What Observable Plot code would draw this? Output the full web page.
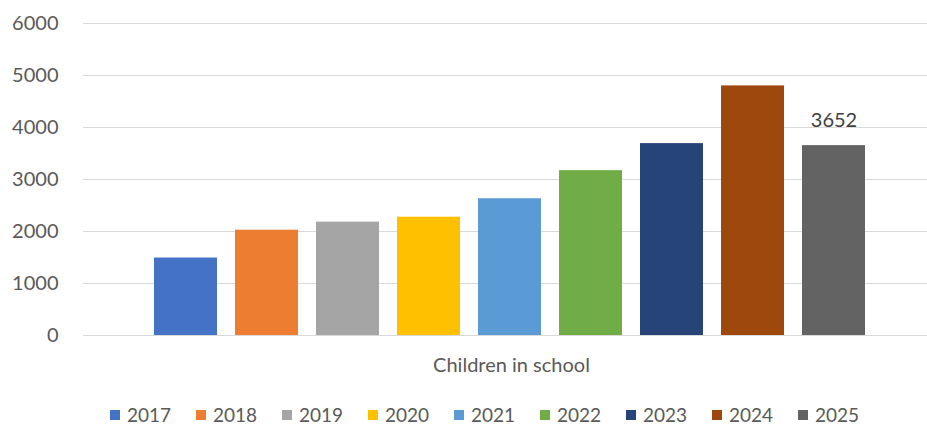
<!DOCTYPE html>
<html>
<head>
<meta charset="utf-8">
<script src="https://cdn.jsdelivr.net/npm/d3@7"></script>
<script src="https://cdn.jsdelivr.net/npm/@observablehq/plot@0.6"></script>
<style>
  html, body { margin: 0; padding: 0; background: #ffffff; }
  #chart { width: 927px; font-family: Lato, "Open Sans", sans-serif; }
  #legend { display: flex; padding-left: 110px; margin-top: 16px; height: 18px; line-height: 18px; font-size: 19px; color: #595959; }
  #legend .item { width: 86px; display: flex; align-items: center; }
  #legend .sw { width: 10px; height: 10px; margin-right: 7px; flex: none; }
</style>
</head>
<body>
<div id="chart"></div>
<script>
const years = ["2017", "2018", "2019", "2020", "2021", "2022", "2023", "2024", "2025"];
const values = [1490, 2025, 2180, 2275, 2630, 3170, 3690, 4800, 3652];
const colors = ["#4472C4", "#ED7D31", "#A5A5A5", "#FFC000", "#5B9BD5", "#70AD47", "#264478", "#9E480E", "#636363"];
const yTicks = [0, 1000, 2000, 3000, 4000, 5000, 6000];
const category = "Children in school";
const labelledYears = ["2025"];

const data = years.map((year, i) => ({year, value: values[i]}));

const plot = Plot.plot({
  width: 927,
  height: 390,
  marginLeft: 83,
  marginRight: 0,
  marginTop: 23,
  marginBottom: 55,
  style: {fontFamily: "Lato, 'Open Sans', sans-serif", fontSize: "20px", color: "#595959", background: "#ffffff"},
  x: {domain: years, range: [152, 868], paddingInner: 0.22, paddingOuter: 0, axis: null},
  y: {domain: [0, 6000], ticks: yTicks, tickSize: 0, tickPadding: 25, label: null, tickFormat: d => String(d)},
  color: {domain: years, range: colors},
  marks: [
    Plot.ruleY(yTicks, {stroke: "#d9d9d9", strokeWidth: 1}),
    Plot.barY(data, {x: "year", y: "value", fill: "year"}),
    Plot.text(data.filter(d => labelledYears.includes(d.year)), {
      x: "year", y: "value", text: d => String(d.value), dy: -25,
      fill: "#404040", fontSize: 20
    }),
    Plot.text([category], {frameAnchor: "bottom", text: d => d, dx: 6, dy: 36, fill: "#595959", fontSize: 20})
  ]
});

const chart = document.getElementById("chart");
chart.appendChild(plot);

const legend = document.createElement("div");
legend.id = "legend";
years.forEach((y, i) => {
  const item = document.createElement("div");
  item.className = "item";
  const sw = document.createElement("span");
  sw.className = "sw";
  sw.style.background = colors[i];
  const t = document.createElement("span");
  t.textContent = y;
  item.appendChild(sw);
  item.appendChild(t);
  legend.appendChild(item);
});
chart.appendChild(legend);
</script>
</body>
</html>
